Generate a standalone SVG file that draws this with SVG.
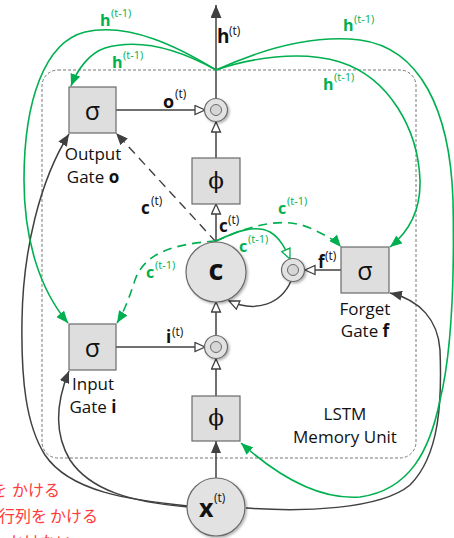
<svg xmlns="http://www.w3.org/2000/svg" width="454" height="538" viewBox="0 0 454 538">
<style>
.box{fill:#dedede;stroke:#6a6a6a;stroke-width:1.2}
.circ{fill:#e2e2e2;stroke:#6a6a6a;stroke-width:1.2}
.inner{fill:#d6d6d6;stroke:#6a6a6a;stroke-width:1}
.ln{fill:none;stroke:#404040;stroke-width:1.5}
.gr{fill:none;stroke:#00b050;stroke-width:1.6}
.grd{fill:none;stroke:#00b050;stroke-width:1.6;stroke-dasharray:9 6}
.bkd{fill:none;stroke:#404040;stroke-width:1.4;stroke-dasharray:9 6}
.lbl{font-family:"Open Sans","Noto Sans",sans-serif;font-size:17px;fill:#111}
.sym{font-family:"Open Sans","Noto Sans",sans-serif;font-size:25px;fill:#111}
.phi{font-family:"DejaVu Serif","Liberation Serif",serif;font-size:23px;fill:#111}
.b{font-family:"Open Sans","Noto Sans",sans-serif;font-weight:bold;fill:#111}
.s{font-family:"Open Sans","Noto Sans",sans-serif;fill:#111;font-size:12px}
.gb{font-family:"Open Sans","Noto Sans",sans-serif;font-weight:bold;fill:#00b050;font-size:16px}
.gs{font-family:"Open Sans","Noto Sans",sans-serif;fill:#00b050;font-size:11px}
.red{font-family:"Noto Sans CJK JP","Noto Sans",sans-serif;font-size:16px;fill:#ff3b3b}
</style>
<defs>
<marker id="fill" markerUnits="userSpaceOnUse" markerWidth="12" markerHeight="10" refX="12" refY="5" orient="auto"><path d="M0,0 L12,5 L0,10 z" fill="#404040"/></marker>
<marker id="big" markerUnits="userSpaceOnUse" markerWidth="13" markerHeight="11" refX="13" refY="5.5" orient="auto"><path d="M0,0 L13,5.5 L0,11 z" fill="#404040"/></marker>
<marker id="open" markerUnits="userSpaceOnUse" markerWidth="12" markerHeight="12" refX="11" refY="5.5" orient="auto"><path d="M1,1 L11,5.5 L1,10 z" fill="#fff" stroke="#404040" stroke-width="1.3"/></marker>
<marker id="gopen" markerUnits="userSpaceOnUse" markerWidth="12" markerHeight="12" refX="11" refY="5.5" orient="auto"><path d="M1,1 L11,5.5 L1,10 z" fill="#fff" stroke="#00b050" stroke-width="1.3"/></marker>
<marker id="gfill" markerUnits="userSpaceOnUse" markerWidth="12" markerHeight="10" refX="12" refY="5" orient="auto"><path d="M0,0 L12,5 L0,10 z" fill="#00b050"/></marker>
<filter id="sh" x="-30%" y="-30%" width="160%" height="160%"><feDropShadow dx="1.5" dy="1.5" stdDeviation="1.2" flood-color="#000" flood-opacity="0.3"/></filter>
</defs>

<g id="memory-unit">
<rect x="42" y="70" width="374" height="388" rx="16" ry="16" fill="none" stroke="#777" stroke-width="1" stroke-dasharray="3 2"/>
<text class="lbl" x="345" y="420" text-anchor="middle">LSTM</text>
<text class="lbl" x="345" y="443" text-anchor="middle">Memory Unit</text>
</g>

<g id="connectors">
<path class="ln" d="M116,110 L205,110" marker-end="url(#open)"/>
<path class="ln" d="M216,158 L216,122" marker-end="url(#open)"/>
<path class="ln" d="M216,98 L216,5" marker-end="url(#big)"/>
<path class="ln" d="M216,242 L216,204" marker-end="url(#open)"/>
<path class="ln" d="M116,347 L205,347" marker-end="url(#open)"/>
<path class="ln" d="M216,396 L216,359" marker-end="url(#open)"/>
<path class="ln" d="M216,335 L216,302" marker-end="url(#open)"/>
<path class="ln" d="M216,478 L216,441" marker-end="url(#fill)"/>
<path class="ln" d="M341,270 L305,270" marker-end="url(#open)"/>
<path class="ln" d="M291,281 C281,304 256,313 229,301" marker-end="url(#open)"/>
<path class="bkd" d="M216,242 L116,133" marker-end="url(#fill)"/>
<path class="ln" d="M188,506 C130,500 70,492 45,455 C26,425 21,380 22,320 C23,250 40,180 69,134" marker-end="url(#fill)"/>
<path class="ln" d="M188,507 C130,502 90,490 70,460 C55,435 55,405 69,371" marker-end="url(#fill)"/>
<path class="ln" d="M246,508 C300,512 380,510 410,485 C440,455 442,400 440,350 C438,320 420,300 390,293" marker-end="url(#fill)"/>
<path class="gr" d="M216,70 C180,48 130,22 85,32 C45,42 24,100 24,180 C24,240 40,290 68,323" marker-end="url(#gfill)"/>
<path class="gr" d="M216,70 C180,50 140,38 105,48 C90,53 78,68 71,86" marker-end="url(#gfill)"/>
<path class="gr" d="M216,70 C250,58 300,50 340,62 C390,78 418,130 420,180 C421,215 405,235 390,247" marker-end="url(#gfill)"/>
<path class="gr" d="M216,70 C260,50 310,34 360,40 C420,48 450,110 453,200 C455,300 450,360 440,400 C430,450 410,490 360,497 C320,500 280,478 241,443" marker-end="url(#gfill)"/>
<path class="grd" d="M216,241 C175,244 145,252 135,280 C130,295 125,310 117,323" marker-end="url(#gfill)"/>
<path class="grd" d="M216,241 C245,228 280,215 310,228 C325,235 335,240 341,247" marker-end="url(#gfill)"/>
<path class="gr" d="M216,241 C235,232 255,224 270,232 C280,238 285,248 290,259" marker-end="url(#gopen)"/>
</g>

<g id="output-gate">
<rect class="box" x="69" y="87" width="47" height="46"/>
<text class="sym" x="92.5" y="120" text-anchor="middle">σ</text>
<text class="lbl" x="93" y="160" text-anchor="middle">Output</text>
<text class="lbl" x="93" y="183" text-anchor="middle">Gate <tspan font-weight="bold">o</tspan></text>
</g>

<g id="input-gate">
<rect class="box" x="69" y="324" width="47" height="46"/>
<text class="sym" x="92.5" y="357" text-anchor="middle">σ</text>
<text class="lbl" x="93" y="390" text-anchor="middle">Input</text>
<text class="lbl" x="93" y="413" text-anchor="middle">Gate <tspan font-weight="bold">i</tspan></text>
</g>

<g id="forget-gate">
<rect class="box" x="341" y="247" width="48" height="46"/>
<text class="sym" x="365" y="280" text-anchor="middle">σ</text>
<text class="lbl" x="365" y="315" text-anchor="middle">Forget</text>
<text class="lbl" x="365" y="337" text-anchor="middle">Gate <tspan font-weight="bold">f</tspan></text>
</g>

<g id="phi-upper">
<rect class="box" x="192" y="158" width="48" height="46"/>
<text class="phi" x="216" y="188" text-anchor="middle">ϕ</text>
</g>

<g id="phi-lower">
<rect class="box" x="192" y="396" width="48" height="45"/>
<text class="phi" x="216" y="425" text-anchor="middle">ϕ</text>
</g>

<g id="output-product" filter="url(#sh)">
<circle class="circ" cx="216" cy="110" r="11.5"/>
<circle class="inner" cx="216" cy="110" r="5.5"/>
</g>

<g id="input-product" filter="url(#sh)">
<circle class="circ" cx="216" cy="347" r="11.5"/>
<circle class="inner" cx="216" cy="347" r="5.5"/>
</g>

<g id="forget-product" filter="url(#sh)">
<circle class="circ" cx="293" cy="270" r="11.5"/>
<circle class="inner" cx="293" cy="270" r="5.5"/>
</g>

<g id="cell">
<circle class="circ" cx="216" cy="272" r="30" filter="url(#sh)"/>
<text class="b" x="216" y="280" font-size="29" text-anchor="middle">c</text>
</g>

<g id="input-x">
<circle class="circ" cx="216" cy="507" r="29" filter="url(#sh)"/>
<text class="b" x="199" y="517" font-size="25">x</text>
<text class="s" x="214" y="502" font-size="16">(t)</text>
</g>

<g id="labels">
<text class="b" x="163" y="108" font-size="18">o</text><text class="s" x="175" y="98">(t)</text>
<text class="b" x="217" y="43" font-size="19">h</text><text class="s" x="229" y="35">(t)</text>
<text class="b" x="219" y="232" font-size="17">c</text><text class="s" x="228" y="224">(t)</text>
<text class="b" x="141" y="214" font-size="17">c</text><text class="s" x="151" y="205">(t)</text>
<text class="b" x="166" y="343" font-size="17">i</text><text class="s" x="172" y="336">(t)</text>
<text class="b" x="318" y="268" font-size="17">f</text><text class="s" x="325" y="260">(t)</text>
<text class="gb" x="146" y="278">c</text><text class="gs" x="155" y="269">(t-1)</text>
<text class="gb" x="278" y="214">c</text><text class="gs" x="287" y="205">(t-1)</text>
<text class="gb" x="239" y="252">c</text><text class="gs" x="248" y="243">(t-1)</text>
<text class="gb" x="100" y="26">h</text><text class="gs" x="111" y="17">(t-1)</text>
<text class="gb" x="112" y="68">h</text><text class="gs" x="123" y="59">(t-1)</text>
<text class="gb" x="343" y="31">h</text><text class="gs" x="354" y="23">(t-1)</text>
<text class="gb" x="323" y="90">h</text><text class="gs" x="334" y="81">(t-1)</text>
</g>

<g id="notes">
<text class="red" x="-9" y="496">を<tspan x="12">かける</tspan></text>
<text class="red" x="-1" y="522">行列を<tspan x="50">かける</tspan></text>
<text class="red" x="8" y="548">かけない</text>
</g>
</svg>
